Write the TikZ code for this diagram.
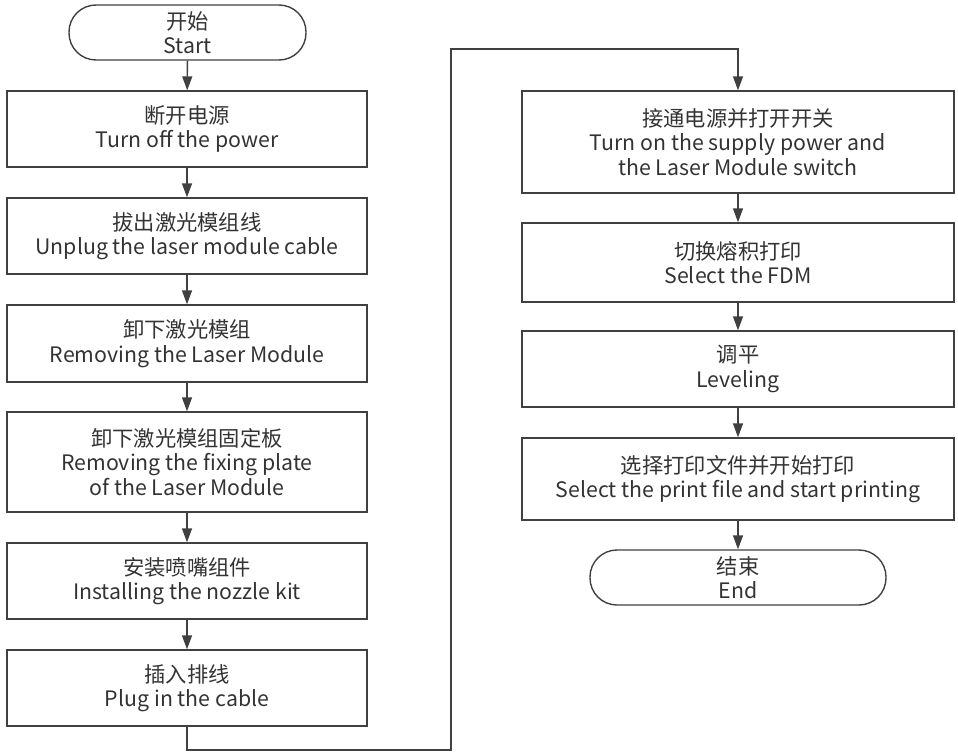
\documentclass[tikz,border=0pt]{standalone}
\usepackage{fontspec}
\setmainfont{Noto Sans CJK SC}
\usetikzlibrary{arrows.meta}
\definecolor{lc}{HTML}{404040}
\definecolor{tc}{HTML}{333333}
\begin{document}
\begin{tikzpicture}[x=1pt,y=-1pt,
  every node/.style={font=\fontsize{21.3}{24.5}\selectfont, text=tc, align=center, inner sep=0pt},
  boxl/.style={draw=lc, line width=1.4pt, rectangle, minimum width=360pt},
  boxr/.style={draw=lc, line width=1.4pt, rectangle, minimum width=432pt},
  term/.style={draw=lc, line width=1.4pt, rectangle, rounded corners=27pt},
  arr/.style={draw=lc, line width=1.4pt, -{Triangle[width=10pt,length=14pt]}}]
\useasboundingbox (0,0) rectangle (958,752);
\node[term, minimum width=237pt, minimum height=55pt] (s) at (187.5,32.5) {开始\\Start};
\node[boxl, minimum height=76pt] (b1) at (187,129) {断开电源\\Turn off the power};
\node[boxl, minimum height=76pt] (b2) at (187,236) {拔出激光模组线\\Unplug the laser module cable};
\node[boxl, minimum height=77pt] (b3) at (187,343.5) {卸下激光模组\\Removing the Laser Module};
\node[boxl, minimum height=100pt] (b4) at (187,462) {卸下激光模组固定板\\Removing the fixing plate\\of the Laser Module};
\node[boxl, minimum height=76pt] (b5) at (187,581) {安装喷嘴组件\\Installing the nozzle kit};
\node[boxl, minimum height=76pt] (b6) at (187,688) {插入排线\\Plug in the cable};
\node[boxr, minimum height=102pt] (b7) at (738,142) {接通电源并打开开关\\Turn on the supply power and\\the Laser Module switch};
\node[boxr, minimum height=79pt] (b8) at (738,262.5) {切换熔积打印\\Select the FDM};
\node[boxr, minimum height=76pt] (b9) at (738,369) {调平\\Leveling};
\node[boxr, minimum height=82pt] (b10) at (738,479) {选择打印文件并开始打印\\Select the print file and start printing};
\node[term, minimum width=296pt, minimum height=55pt] (e) at (738,577.5) {结束\\End};
\coordinate (c1) at (451,750);
\coordinate (c2) at (451,49);
\draw[arr] (s) -- (b1);
\draw[arr] (b1) -- (b2);
\draw[arr] (b2) -- (b3);
\draw[arr] (b3) -- (b4);
\draw[arr] (b4) -- (b5);
\draw[arr] (b5) -- (b6);
\draw[arr] (b6.south) |- (c1) -- (c2) -| (b7.north);
\draw[arr] (b7) -- (b8);
\draw[arr] (b8) -- (b9);
\draw[arr] (b9) -- (b10);
\draw[arr] (b10) -- (e);
\end{tikzpicture}
\end{document}
